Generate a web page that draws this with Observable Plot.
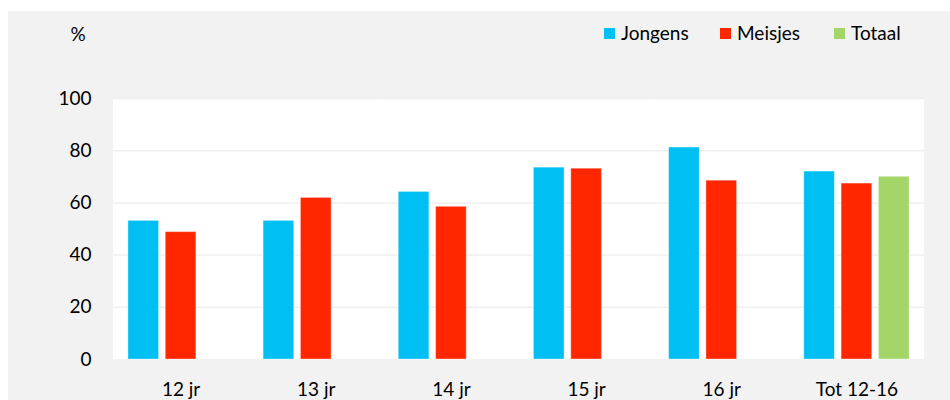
<!DOCTYPE html>
<html>
<head>
<meta charset="utf-8">
<script src="https://cdn.jsdelivr.net/npm/d3@7"></script>
<script src="https://cdn.jsdelivr.net/npm/@observablehq/plot@0.6"></script>
<style>
  body { margin: 0; background: #fff; font-family: Lato, "Open Sans", sans-serif; }
  #wrap { position: relative; width: 950px; height: 400px; overflow: hidden; }
  #bg { position: absolute; left: 8px; top: 11px; right: 0; bottom: 0; background: #f2f2f2; }
  #plotbg { position: absolute; left: 113px; top: 98px; width: 811px; height: 261px; background: #fff; }
  #chart { position: absolute; left: 0; top: 0; }
  #pct { position: absolute; left: 68px; top: 23px; width: 20px; text-align: center; font-size: 19px; line-height: 22px; color: #000; }
  #legend { position: absolute; left: 0; top: 22px; width: 950px; height: 22px; font-size: 19px; line-height: 22px; color: #000; }
  .item { position: absolute; top: 0; display: flex; align-items: center; white-space: nowrap; }
  .item:nth-child(1) { left: 604px; }
  .item:nth-child(2) { left: 720px; }
  .item:nth-child(3) { left: 834px; }
  .sw { width: 11px; height: 11px; margin-right: 6px; }
</style>
</head>
<body>
<div id="wrap">
  <div id="bg"></div>
  <div id="plotbg"></div>
  <div id="chart"></div>
  <div id="pct">%</div>
  <div id="legend"></div>
</div>
<script>
const categories = ["12 jr", "13 jr", "14 jr", "15 jr", "16 jr", "Tot 12-16"];
const series = ["Jongens", "Meisjes", "Totaal"];
const colors = ["#00bff3", "#ff2600", "#a3d568"];
const jongens = [53.1, 53.1, 64.2, 73.5, 81.2, 72.0];
const meisjes = [48.8, 61.9, 58.5, 73.1, 68.5, 67.4];
const totaal  = [null, null, null, null, null, 70.0];
const yTicks = [0, 20, 40, 60, 80, 100];

const data = [];
categories.forEach((c, i) => {
  [jongens, meisjes, totaal].forEach((arr, s) => {
    if (arr[i] != null) data.push({cat: c, series: series[s], value: arr[i]});
  });
});

const chart = Plot.plot({
  width: 950,
  height: 400,
  marginLeft: 113,
  marginRight: 26,
  marginTop: 98,
  marginBottom: 41,
  style: {background: "transparent", fontFamily: "Lato, 'Open Sans', sans-serif", fontSize: "19px", color: "#000"},
  fx: {domain: categories, padding: 0, round: false, label: null, axis: "bottom", tickSize: 0, tickPadding: 23},
  x: {domain: series, paddingInner: 0.18, paddingOuter: 0.4, round: false, axis: null},
  y: {domain: [0, 100], ticks: yTicks, tickSize: 0, tickPadding: 22, label: null},
  color: {domain: series, range: colors},
  marks: [
    Plot.gridY(yTicks.filter(d => d > 0), {stroke: "#efefef", strokeOpacity: 1, strokeWidth: 1.5}),
    Plot.barY(data, {fx: "cat", x: "series", y: "value", fill: "series", stroke: "white", strokeOpacity: 0.35, strokeWidth: 1})
  ]
});
document.getElementById("chart").appendChild(chart);

const legend = document.getElementById("legend");
series.forEach((s, i) => {
  const it = document.createElement("div");
  it.className = "item";
  const sw = document.createElement("span");
  sw.className = "sw";
  sw.style.background = colors[i];
  const t = document.createElement("span");
  t.textContent = s;
  it.appendChild(sw); it.appendChild(t);
  legend.appendChild(it);
});
</script>
</body>
</html>
